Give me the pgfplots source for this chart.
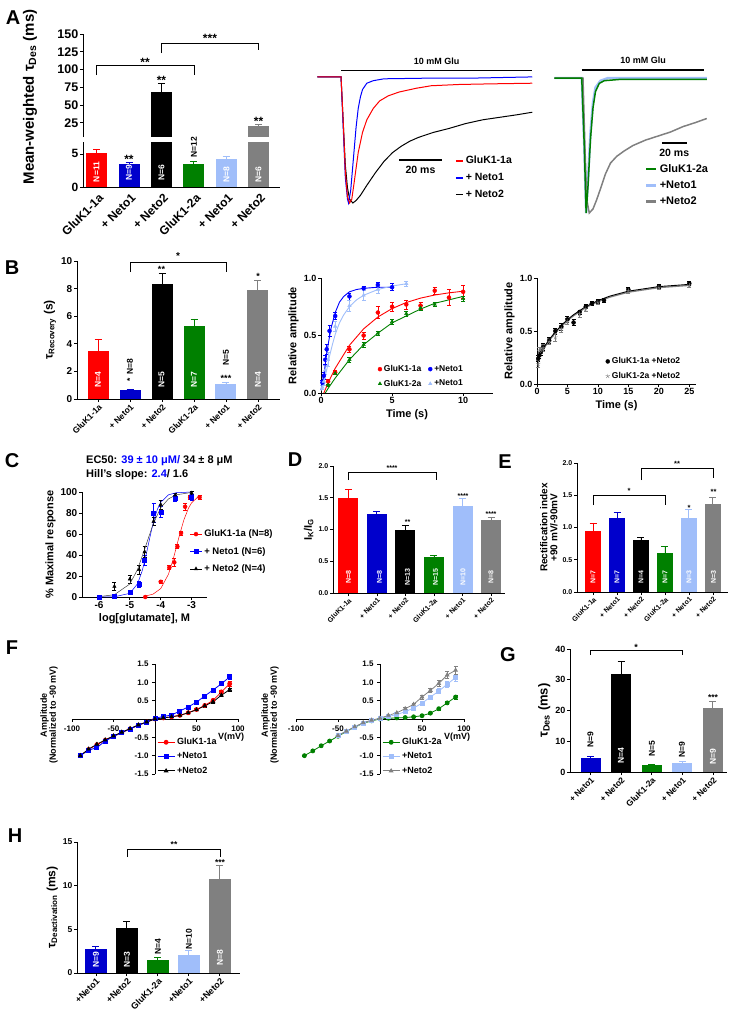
\documentclass[border=0pt]{standalone}
\usepackage{fontspec}
\setmainfont{Liberation Sans}
\usepackage{pgfplots}
\pgfplotsset{compat=1.18}

\definecolor{cred}{RGB}{255,0,0}
\definecolor{cblue}{RGB}{0,0,204}
\definecolor{tblue}{RGB}{0,0,255}
\definecolor{cgreen}{RGB}{0,128,0}
\definecolor{clb}{RGB}{160,190,250}
\definecolor{cgray}{RGB}{128,128,128}

\newcommand{\fs}[1]{\fontsize{#1}{#1}\selectfont\bfseries}

\pgfplotsset{
  base/.style={scale only axis, anchor=south west,
    axis lines=left, axis line style={-, line width=0.9pt},
    tick style={black, line width=0.8pt}, tick align=outside, major tick length=3pt,
    /pgf/number format/assume math mode=true,
    every tick label/.append style={inner sep=1.5pt}},
  dec1/.style={yticklabel style={/pgf/number format/.cd, fixed, fixed zerofill, precision=1}},
  bars/.style={base, xtick={0,...,5}, x tick label style={rotate=45, anchor=north east, inner sep=1pt}},
  hbar/.style={ybar, bar shift=0pt, fill=#1, draw=none,
    error bars/y dir=plus, error bars/y explicit,
    error bars/error bar style={#1, line width=0.9pt},
    error bars/error mark options={#1, line width=0.9pt, mark size=3.5pt, rotate=90}},
  pts/.style={only marks, color=#1, mark size=2pt,
    error bars/y dir=both, error bars/y explicit,
    error bars/error bar style={#1, line width=0.6pt},
    error bars/error mark options={#1, line width=0.6pt, mark size=2pt, rotate=90}},
  trleg/.style={legend cell align=left,
    legend image code/.code={\draw[##1] (0pt,0pt) -- (7pt,0pt);}},
}

\begin{document}
\begin{tikzpicture}
\path[use as bounding box] (0,0) rectangle (735pt,-1012pt);

% ---------------- A: bar chart with broken axis
\begin{axis}[bars, at={(83pt,-187pt)}, width=197pt, height=45pt,
  xmin=-0.42, xmax=5.66, ymin=0, ymax=6.8, ytick={0,5}, bar width=21pt, clip=true,
  xticklabels={GluK1-1a,+ Neto1,+ Neto2,GluK1-2a,+ Neto1,+ Neto2},
  x tick style={draw=none}, x tick label style={yshift=-2pt},
  tick label style={font=\fs{12}}]
\addplot[hbar=cred] coordinates {(0,5.2) +- (0,0.5)};
\addplot[hbar=cblue] coordinates {(1,3.5) +- (0,0.2)};
\addplot[hbar=black] coordinates {(2,69) +- (0,11)};
\addplot[hbar=cgreen] coordinates {(3,3.5) +- (0,0.3)};
\addplot[hbar=clb] coordinates {(4,4.2) +- (0,0.4)};
\addplot[hbar=cgray] coordinates {(5,20.8) +- (0,2.4)};
\end{axis}
\begin{axis}[base, axis x line=none, at={(83pt,-137pt)}, width=197pt, height=103pt,
  xmin=-0.42, xmax=5.66, ymin=5, ymax=150, ytick={25,50,...,150}, bar width=21pt, clip=true,
  tick label style={font=\fs{12.5}}]
\addplot[hbar=black] coordinates {(2,69) +- (0,11)};
\addplot[hbar=cgray] coordinates {(5,20.8) +- (0,2.4)};
\end{axis}

% ---------------- A: traces GluK1-1a
\begin{axis}[hide axis, scale only axis, anchor=south west, at={(317.4pt,-209.3pt)},
  width=217pt, height=145pt, xmin=-11, xmax=90, ymin=-1.05, ymax=0.1, clip=false,
  trleg, legend style={at={(0.634,0.381)}, anchor=north west, draw=none, fill=none,
    font=\fs{10.5}, row sep=4pt, inner sep=0pt}]
\addlegendimage{cred, line width=1.6pt}\addlegendentry{GluK1-1a}
\addlegendimage{tblue, line width=1.6pt}\addlegendentry{+ Neto1}
\addlegendimage{black, line width=1.6pt}\addlegendentry{+ Neto2}
\addplot[black, line width=1pt, forget plot] coordinates {(-11,0) (0,0) (1,-0.35) (2,-0.7) (3,-0.88) (4,-0.97) (5.5,-1.0) (7,-0.98) (9,-0.94) (12,-0.86) (16,-0.76) (20,-0.67) (24,-0.6) (28,-0.55) (32,-0.51) (36,-0.48) (43,-0.44) (50,-0.41) (58,-0.37) (66,-0.34) (74,-0.32) (82,-0.3) (89,-0.28)};
\addplot[tblue, line width=1pt, forget plot] coordinates {(-11,0) (0,0) (1,-0.4) (2,-0.8) (3,-0.97) (3.5,-1.0) (4.5,-0.9) (5.5,-0.7) (7,-0.4) (8,-0.25) (9,-0.16) (10,-0.1) (12,-0.05) (15,-0.03) (20,-0.015) (40,-0.01) (60,-0.01) (89,0)};
\addplot[cred, line width=1pt, forget plot] coordinates {(-11,0) (0,0) (1,-0.35) (2,-0.75) (3,-0.95) (4,-1.0) (5,-0.97) (6,-0.85) (8,-0.6) (10,-0.44) (12,-0.34) (15,-0.25) (18,-0.19) (22,-0.15) (27,-0.12) (35,-0.09) (42,-0.07) (55,-0.06) (70,-0.055) (89,-0.05)};
\draw[line width=1.5pt] (axis cs:0,0.05) -- (axis cs:89,0.05) node[midway, above=2pt, font=\fs{9}] {10 mM Glu};
\draw[line width=1.5pt] (axis cs:27,-0.66) -- (axis cs:47,-0.66) node[midway, below=2pt, font=\fs{10.5}] {20 ms};
\end{axis}

% ---------------- A: traces GluK1-2a
\begin{axis}[hide axis, scale only axis, anchor=south west, at={(554.25pt,-219.75pt)},
  width=153.75pt, height=155.25pt, xmin=-23, xmax=100, ymin=-1.05, ymax=0.1, clip=false,
  legend cell align=left,
  legend image code/.code={\draw[#1] (0pt,0pt) -- (10pt,0pt);},
  legend style={at={(0.59,0.372)}, anchor=north west, draw=none, fill=none,
    font=\fs{11}, row sep=3pt, inner sep=0pt}]
\addlegendimage{cgreen, line width=2.6pt}\addlegendentry{GluK1-2a}
\addlegendimage{clb, line width=2.6pt}\addlegendentry{+Neto1}
\addlegendimage{cgray, line width=2.6pt}\addlegendentry{+Neto2}
\addplot[clb, line width=2.4pt, forget plot] coordinates {(-23,0) (-1,0) (1,-0.5) (2.5,-1.0) (4,-0.75) (6,-0.4) (8,-0.18) (10,-0.07) (14,-0.02) (20,0) (99,0)};
\addplot[cgray, line width=1.5pt, forget plot] coordinates {(-23,0) (0,0) (1.5,-0.5) (3,-0.9) (5,-1.0) (8,-0.97) (11,-0.9) (14,-0.82) (18,-0.71) (22,-0.63) (27,-0.58) (33,-0.54) (40,-0.5) (50,-0.46) (60,-0.43) (70,-0.4) (80,-0.36) (90,-0.33) (99,-0.3)};
\addplot[cgreen, line width=1.5pt, forget plot] coordinates {(-23,0) (-1,0) (1,-0.5) (2.5,-1.0) (4,-0.8) (6,-0.45) (8,-0.22) (10,-0.1) (13,-0.04) (17,-0.02) (30,-0.01) (99,-0.01)};
\draw[line width=1.5pt] (axis cs:-1,0.06) -- (axis cs:97,0.06) node[midway, above=2pt, font=\fs{9}] {10 mM Glu};
\draw[line width=1.5pt] (axis cs:63,-0.48) -- (axis cs:83,-0.48) node[midway, below=2pt, font=\fs{10.5}] {20 ms};
\end{axis}

% ---------------- B: tau recovery bars
\begin{axis}[bars, at={(77pt,-399pt)}, width=203pt, height=138pt,
  xmin=-0.66, xmax=5.69, ymin=0, ymax=10, ytick={0,2,...,10}, bar width=21pt,
  xticklabels={GluK1-1a,+ Neto1,+ Neto2,GluK1-2a,+ Neto1,+ Neto2},
  y tick label style={font=\fs{10}}, x tick label style={font=\fs{8.5}},
  ylabel={τ\textsubscript{Recovery} (s)}, ylabel style={font=\fs{12}}]
\addplot[hbar=cred] coordinates {(0,3.5) +- (0,0.85)};
\addplot[hbar=cblue] coordinates {(1,0.65) +- (0,0.07)};
\addplot[hbar=black] coordinates {(2,8.3) +- (0,0.8)};
\addplot[hbar=cgreen] coordinates {(3,5.3) +- (0,0.5)};
\addplot[hbar=clb] coordinates {(4,1.1) +- (0,0.1)};
\addplot[hbar=cgray] coordinates {(5,7.9) +- (0,0.7)};
\end{axis}

% ---------------- B: recovery curves (Neto1)
\begin{axis}[base, dec1, at={(321pt,-393pt)}, width=172pt, height=115pt,
  xmin=0, xmax=12.1, ymin=0, ymax=1, xtick={0,5,10}, ytick={0,0.5,1},
  tick label style={font=\fs{9}}, label style={font=\fs{11}},
  xlabel={Time (s)}, ylabel={Relative amplitude}, clip=false,
  legend columns=2, legend cell align=left,
  legend style={at={(0.33,0.26)}, anchor=north west, draw=none, fill=none,
    font=\fs{8.5}, inner sep=0pt, row sep=3pt,
    /tikz/every even column/.append style={column sep=5pt}}]
\addplot[pts=cred, mark=*] coordinates {(0.5,0.1) +- (0,0.02) (1,0.18) +- (0,0.02) (2,0.38) +- (0,0.03) (3,0.5) +- (0,0.03) (4,0.7) +- (0,0.05) (5,0.75) +- (0,0.04) (6,0.77) +- (0,0.04) (7,0.76) +- (0,0.03) (8,0.89) +- (0,0.03) (9,0.83) +- (0,0.07) (10,0.88) +- (0,0.06)};
\addlegendentry{GluK1-1a}
\addplot[pts=tblue, mark=*] coordinates {(0.1,0.09) +- (0,0.02) (0.2,0.15) +- (0,0.03) (0.3,0.29) +- (0,0.04) (0.4,0.38) +- (0,0.04) (0.6,0.54) +- (0,0.05) (1,0.67) +- (0,0.03) (2,0.84) +- (0,0.03) (3,0.91) +- (0,0.02) (4,0.94) +- (0,0.02) (5,0.92) +- (0,0.03)};
\addlegendentry{+Neto1}
\addplot[pts=cgreen, mark=triangle*] coordinates {(0.5,0.07) +- (0,0.01) (1,0.17) +- (0,0.01) (2,0.29) +- (0,0.02) (3,0.42) +- (0,0.02) (4,0.52) +- (0,0.02) (5,0.62) +- (0,0.02) (6,0.69) +- (0,0.02) (7,0.74) +- (0,0.02) (8,0.77) +- (0,0.02) (10,0.82) +- (0,0.02)};
\addlegendentry{GluK1-2a}
\addplot[pts=clb, mark=triangle*] coordinates {(0.1,0.05) +- (0,0.02) (0.2,0.1) +- (0,0.03) (0.3,0.2) +- (0,0.04) (0.5,0.29) +- (0,0.06) (1,0.58) +- (0,0.04) (2,0.76) +- (0,0.05) (3,0.85) +- (0,0.04) (4,0.9) +- (0,0.03) (6,0.95) +- (0,0.02)};
\addlegendentry{+Neto1}
\addplot[cred, line width=0.9pt, forget plot] coordinates {(0.2,0) (0.5,0.088) (1,0.215) (2,0.415) (3,0.558) (4,0.661) (5,0.734) (6,0.787) (7,0.825) (8,0.852) (9,0.871) (10,0.885)};
\addplot[cgreen, line width=0.9pt, forget plot] coordinates {(0.3,0) (0.5,0.04) (1,0.13) (2,0.29) (3,0.42) (4,0.52) (5,0.61) (6,0.67) (7,0.73) (8,0.78) (9,0.81) (10,0.84)};
\addplot[tblue, line width=0.9pt, forget plot] coordinates {(0,0.03) (0.1,0.08) (0.2,0.16) (0.3,0.25) (0.4,0.34) (0.5,0.42) (0.7,0.56) (1,0.7) (1.3,0.79) (1.6,0.84) (2,0.88) (2.5,0.9) (3,0.91) (4,0.92) (5,0.92)};
\addplot[clb, line width=0.9pt, forget plot] coordinates {(0,0.02) (0.2,0.1) (0.4,0.2) (0.6,0.32) (0.8,0.42) (1,0.51) (1.3,0.61) (1.6,0.68) (2,0.75) (2.5,0.81) (3,0.85) (4,0.9) (5,0.93) (6,0.95)};
\end{axis}

% ---------------- B: recovery curves (Neto2)
\begin{axis}[base, dec1, at={(537pt,-384pt)}, width=159pt, height=106pt,
  xmin=0, xmax=26.1, ymin=0, ymax=1, xtick={0,5,...,25}, ytick={0,0.5,1},
  tick label style={font=\fs{9}}, label style={font=\fs{11}},
  xlabel={Time (s)}, ylabel={Relative amplitude}, clip=false,
  legend cell align=left,
  legend style={at={(0.43,0.27)}, anchor=north west, draw=none, fill=none,
    font=\fs{8.5}, inner sep=0pt, row sep=3pt}]
\addplot[pts=black, mark=*] coordinates {(0.2,0.24) +- (0,0.03) (0.4,0.27) +- (0,0.03) (0.6,0.3) +- (0,0.03) (1,0.35) +- (0,0.03) (2,0.41) +- (0,0.03) (3,0.5) +- (0,0.03) (4,0.54) +- (0,0.03) (5,0.61) +- (0,0.03) (6,0.58) +- (0,0.03) (7,0.68) +- (0,0.02) (8,0.73) +- (0,0.02) (9,0.76) +- (0,0.02) (10,0.78) +- (0,0.02) (11,0.79) +- (0,0.02) (15,0.89) +- (0,0.02) (20,0.92) +- (0,0.02) (25,0.95) +- (0,0.02)};
\addlegendentry{GluK1-1a +Neto2}
\addplot[pts=cgray, mark=star, mark size=2.3pt] coordinates {(0.2,0.19) +- (0,0.03) (0.4,0.31) +- (0,0.04) (0.6,0.32) +- (0,0.03) (1,0.34) +- (0,0.03) (2,0.4) +- (0,0.03) (3,0.44) +- (0,0.04) (4,0.52) +- (0,0.03) (5,0.59) +- (0,0.03) (7,0.66) +- (0,0.03) (8,0.71) +- (0,0.02) (10,0.77) +- (0,0.02) (15,0.88) +- (0,0.02) (20,0.91) +- (0,0.02) (25,0.93) +- (0,0.02)};
\addlegendentry{GluK1-2a +Neto2}
\addplot[cgray, line width=1.2pt, forget plot] coordinates {(0,0.23) (1,0.326) (2,0.409) (3,0.481) (4,0.543) (5,0.598) (6,0.644) (8,0.72) (10,0.777) (12,0.82) (15,0.866) (20,0.909) (25,0.93)};
\addplot[black, line width=0.9pt, forget plot] coordinates {(0,0.24) (1,0.336) (2,0.419) (3,0.491) (4,0.553) (5,0.608) (6,0.654) (8,0.73) (10,0.787) (12,0.83) (15,0.876) (20,0.919) (25,0.94)};
\end{axis}

% ---------------- C: dose response
\begin{axis}[base, at={(82pt,-597pt)}, width=125pt, height=105pt,
  xmin=-6.55, xmax=-2.5, ymin=0, ymax=100, xtick={-6,-5,-4,-3}, ytick={0,20,...,100},
  tick label style={font=\fs{10}}, label style={font=\fs{11}},
  xlabel={log[glutamate], M}, ylabel={\% Maximal response}, clip=false,
  legend cell align=left,
  legend image code/.code={\draw[#1, mark=none, line width=0.6pt] (0pt,0pt) -- (12pt,0pt); \draw[#1] plot coordinates {(6pt,0pt)};},
  legend style={at={(0.86,0.66)}, anchor=north west, draw=none, fill=none,
    font=\fs{9.5}, inner sep=0pt, row sep=5pt}]
\addplot[pts=cred, mark=*] coordinates {(-4.5,0) +- (0,0) (-4.0,14.5) +- (0,1) (-3.72,28) +- (0,2) (-3.56,33) +- (0,4) (-3.46,48) +- (0,2) (-3.34,61) +- (0,2) (-3.21,86) +- (0,3) (-3.05,95) +- (0,2) (-2.74,95) +- (0,2)};
\addlegendentry{GluK1-1a (N=8)}
\addplot[pts=tblue, mark=square*] coordinates {(-6,0) +- (0,0.5) (-5.5,1) +- (0,1) (-5,5) +- (0,1) (-4.7,12) +- (0,3) (-4.52,35) +- (0,5) (-4.23,80) +- (0,9) (-4.0,81) +- (0,5) (-3.53,94) +- (0,3) (-3.0,95) +- (0,3)};
\addlegendentry{+ Neto1 (N=6)}
\addplot[pts=black, mark=triangle*] coordinates {(-5.5,10) +- (0,4) (-5.0,17) +- (0,4) (-4.7,26) +- (0,4) (-4.52,43) +- (0,5) (-4.23,72) +- (0,4) (-4.0,88) +- (0,4) (-3.53,97) +- (0,2) (-3.0,99) +- (0,2)};
\addlegendentry{+ Neto2 (N=4)}
\addplot[cred, line width=0.5pt, forget plot] coordinates {(-4.5,0.9) (-4.25,2.7) (-4,8) (-3.75,21.6) (-3.6,35.5) (-3.5,46.6) (-3.4,58) (-3.25,73.4) (-3.1,84.6) (-3,89.7) (-2.75,96.5)};
\addplot[tblue, line width=0.5pt, forget plot] coordinates {(-6,0.01) (-5.5,0.23) (-5,3.5) (-4.75,12.6) (-4.6,24.9) (-4.5,36.5) (-4.4,50) (-4.3,63.5) (-4.2,75.1) (-4.1,84) (-4,90.1) (-3.75,97.3) (-3.5,99.3) (-3,100)};
\addplot[black!75, line width=0.5pt, forget plot] coordinates {(-6,0.36) (-5.5,2.2) (-5,12.4) (-4.75,26.3) (-4.5,47.2) (-4.25,69.2) (-4,85) (-3.75,93.4) (-3.5,97.3) (-3,99.6)};
\end{axis}

% ---------------- D: IK/IG
\begin{axis}[bars, dec1, at={(333pt,-593pt)}, width=172pt, height=127pt,
  xmin=-0.54, xmax=5.49, ymin=0, ymax=2, ytick={0,0.5,...,2}, bar width=20pt,
  xticklabels={GluK1-1a,+ Neto1,+ Neto2,GluK1-2a,+ Neto1,+ Neto2},
  tick label style={font=\fs{7}},
  ylabel={I\textsubscript{K}/I\textsubscript{G}}, ylabel style={font=\fs{11}}]
\addplot[hbar=cred] coordinates {(0,1.5) +- (0,0.13)};
\addplot[hbar=cblue] coordinates {(1,1.25) +- (0,0.03)};
\addplot[hbar=black] coordinates {(2,1.0) +- (0,0.06)};
\addplot[hbar=cgreen] coordinates {(3,0.56) +- (0,0.03)};
\addplot[hbar=clb] coordinates {(4,1.37) +- (0,0.12)};
\addplot[hbar=cgray] coordinates {(5,1.15) +- (0,0.04)};
\end{axis}

% ---------------- E: rectification index
\begin{axis}[bars, dec1, at={(577pt,-592pt)}, width=151pt, height=129pt,
  xmin=-0.67, xmax=5.63, ymin=0, ymax=2, ytick={0,0.5,...,2}, bar width=16pt,
  xticklabels={GluK1-1a,+ Neto1,+ Neto2,GluK1-2a,+ Neto1,+ Neto2},
  tick label style={font=\fs{7}},
  ylabel={Rectification index\\+90 mV/-90mV}, ylabel style={font=\fs{10}, align=center}]
\addplot[hbar=cred] coordinates {(0,0.95) +- (0,0.12)};
\addplot[hbar=cblue] coordinates {(1,1.15) +- (0,0.09)};
\addplot[hbar=black] coordinates {(2,0.8) +- (0,0.05)};
\addplot[hbar=cgreen] coordinates {(3,0.6) +- (0,0.1)};
\addplot[hbar=clb] coordinates {(4,1.14) +- (0,0.14)};
\addplot[hbar=cgray] coordinates {(5,1.37) +- (0,0.1)};
\end{axis}

% ---------------- F: I-V GluK1-1a
\begin{axis}[scale only axis, anchor=south west, at={(72pt,-774pt)}, width=166pt, height=110pt,
  axis lines=middle, axis line style={-, line width=0.9pt},
  tick style={black, line width=0.8pt}, tick align=outside, major tick length=3pt,
  /pgf/number format/assume math mode=true, dec1,
  xmin=-100, xmax=100, ymin=-1.5, ymax=1.5,
  xtick={-100,-50,50,100}, ytick={-1.5,-1,-0.5,0.5,1,1.5},
  tick label style={font=\fs{8}}, clip=false,
  legend cell align=left,
  legend style={at={(0.512,0.345)}, anchor=north west, draw=none, fill=none,
    font=\fs{9}, inner sep=0pt, row sep=2.5pt}]
\addplot[pts=cred, mark=*, sharp plot, line width=0.8pt] coordinates {(-90,-1) +- (0,0.01) (-80,-0.83) +- (0,0.02) (-70,-0.7) +- (0,0.02) (-60,-0.58) +- (0,0.02) (-50,-0.47) +- (0,0.02) (-40,-0.37) +- (0,0.02) (-30,-0.27) +- (0,0.02) (-20,-0.17) +- (0,0.01) (-10,-0.08) +- (0,0.01) (0,0) +- (0,0) (10,0.03) +- (0,0.01) (20,0.06) +- (0,0.01) (30,0.1) +- (0,0.01) (40,0.17) +- (0,0.02) (50,0.26) +- (0,0.02) (60,0.37) +- (0,0.03) (70,0.51) +- (0,0.04) (80,0.74) +- (0,0.05) (90,0.96) +- (0,0.06)};
\addlegendentry{GluK1-1a}
\addplot[pts=tblue, mark=square*, sharp plot, line width=0.8pt] coordinates {(-90,-1) +- (0,0.01) (-80,-0.85) +- (0,0.02) (-70,-0.78) +- (0,0.02) (-60,-0.6) +- (0,0.02) (-50,-0.48) +- (0,0.02) (-40,-0.37) +- (0,0.02) (-30,-0.27) +- (0,0.02) (-20,-0.17) +- (0,0.01) (-10,-0.09) +- (0,0.01) (0,0.02) +- (0,0) (10,0.07) +- (0,0.01) (20,0.11) +- (0,0.01) (30,0.22) +- (0,0.01) (40,0.33) +- (0,0.02) (50,0.46) +- (0,0.02) (60,0.63) +- (0,0.02) (70,0.79) +- (0,0.03) (80,0.96) +- (0,0.04) (90,1.15) +- (0,0.06)};
\addlegendentry{+Neto1}
\addplot[pts=black, mark=triangle*, sharp plot, line width=0.8pt] coordinates {(-90,-1) +- (0,0.01) (-80,-0.82) +- (0,0.02) (-70,-0.69) +- (0,0.02) (-60,-0.57) +- (0,0.02) (-50,-0.46) +- (0,0.02) (-40,-0.36) +- (0,0.02) (-30,-0.26) +- (0,0.02) (-20,-0.16) +- (0,0.01) (-10,-0.08) +- (0,0.01) (0,0) +- (0,0) (10,0.03) +- (0,0.01) (20,0.06) +- (0,0.01) (30,0.1) +- (0,0.01) (40,0.17) +- (0,0.02) (50,0.25) +- (0,0.02) (60,0.36) +- (0,0.03) (70,0.47) +- (0,0.03) (80,0.65) +- (0,0.04) (90,0.8) +- (0,0.04)};
\addlegendentry{+Neto2}
\end{axis}

% ---------------- F: I-V GluK1-2a
\begin{axis}[scale only axis, anchor=south west, at={(296pt,-774pt)}, width=168pt, height=110pt,
  axis lines=middle, axis line style={-, line width=0.9pt},
  tick style={black, line width=0.8pt}, tick align=outside, major tick length=3pt,
  /pgf/number format/assume math mode=true, dec1,
  xmin=-100, xmax=100, ymin=-1.5, ymax=1.5,
  xtick={-100,-50,50,100}, ytick={-1.5,-1,-0.5,0.5,1,1.5},
  tick label style={font=\fs{8}}, clip=false,
  legend cell align=left,
  legend style={at={(0.512,0.345)}, anchor=north west, draw=none, fill=none,
    font=\fs{9}, inner sep=0pt, row sep=2.5pt}]
\addplot[pts=cgreen, mark=*, sharp plot, line width=0.8pt] coordinates {(-90,-1) +- (0,0.01) (-80,-0.87) +- (0,0.01) (-70,-0.73) +- (0,0.01) (-60,-0.6) +- (0,0.01) (-50,-0.47) +- (0,0.01) (-40,-0.34) +- (0,0.01) (-30,-0.22) +- (0,0.01) (-20,-0.12) +- (0,0.01) (-10,-0.05) +- (0,0.01) (0,0) +- (0,0) (10,0.02) +- (0,0.01) (20,0.03) +- (0,0.01) (30,0.04) +- (0,0.01) (40,0.06) +- (0,0.01) (50,0.09) +- (0,0.01) (60,0.16) +- (0,0.02) (70,0.28) +- (0,0.03) (80,0.44) +- (0,0.05) (90,0.6) +- (0,0.06)};
\addlegendentry{GluK1-2a}
\addplot[pts=clb, mark=square*, sharp plot, line width=0.8pt] coordinates {(-50,-0.45) +- (0,0.01) (-40,-0.33) +- (0,0.01) (-30,-0.22) +- (0,0.01) (-20,-0.11) +- (0,0.01) (-10,-0.04) +- (0,0.01) (0,0.01) +- (0,0) (10,0.07) +- (0,0.01) (20,0.12) +- (0,0.02) (30,0.2) +- (0,0.02) (40,0.3) +- (0,0.03) (50,0.43) +- (0,0.04) (60,0.6) +- (0,0.05) (70,0.76) +- (0,0.07) (80,0.95) +- (0,0.09) (90,1.13) +- (0,0.1)};
\addlegendentry{+Neto1}
\addplot[pts=cgray, mark=triangle*, sharp plot, line width=0.8pt] coordinates {(-50,-0.45) +- (0,0.01) (-40,-0.33) +- (0,0.01) (-30,-0.21) +- (0,0.01) (-20,-0.1) +- (0,0.01) (-10,-0.03) +- (0,0.01) (0,0.02) +- (0,0) (10,0.1) +- (0,0.01) (20,0.17) +- (0,0.02) (30,0.28) +- (0,0.03) (40,0.4) +- (0,0.04) (50,0.6) +- (0,0.05) (60,0.78) +- (0,0.06) (70,0.97) +- (0,0.08) (80,1.2) +- (0,0.09) (90,1.33) +- (0,0.1)};
\addlegendentry{+Neto2}
\end{axis}

% ---------------- G: tau des
\begin{axis}[bars, at={(570pt,-772pt)}, width=157pt, height=123pt,
  xmin=-0.67, xmax=4.46, ymin=0, ymax=40, ytick={0,10,...,40}, bar width=20pt,
  xtick={0,...,4}, xticklabels={+ Neto1,+ Neto2,GluK1-2a,+ Neto1,+ Neto2},
  y tick label style={font=\fs{9}}, x tick label style={font=\fs{8.5}},
  ylabel={τ\textsubscript{Des} (ms)}, ylabel style={font=\fs{13}}]
\addplot[hbar=cblue] coordinates {(0,4.7) +- (0,0.5)};
\addplot[hbar=black] coordinates {(1,31.8) +- (0,4.2)};
\addplot[hbar=cgreen] coordinates {(2,2.3) +- (0,0.3)};
\addplot[hbar=clb] coordinates {(3,2.8) +- (0,0.7)};
\addplot[hbar=cgray] coordinates {(4,20.8) +- (0,2.2)};
\end{axis}

% ---------------- H: tau deactivation
\begin{axis}[bars, at={(77pt,-973pt)}, width=163pt, height=131pt,
  xmin=-0.61, xmax=4.65, ymin=0, ymax=15, ytick={0,5,10,15}, bar width=22pt,
  xtick={0,...,4}, xticklabels={+Neto1,+Neto2,GluK1-2a,+Neto1,+Neto2},
  y tick label style={font=\fs{8.5}}, x tick label style={font=\fs{9}},
  ylabel={τ\textsubscript{Deactivation} (ms)}, ylabel style={font=\fs{12}}]
\addplot[hbar=cblue] coordinates {(0,2.8) +- (0,0.2)};
\addplot[hbar=black] coordinates {(1,5.2) +- (0,0.7)};
\addplot[hbar=cgreen] coordinates {(2,1.5) +- (0,0.3)};
\addplot[hbar=clb] coordinates {(3,2.1) +- (0,0.5)};
\addplot[hbar=cgray] coordinates {(4,10.8) +- (0,1.5)};
\end{axis}

% ---------------- annotations
\begin{scope}[x=1pt, y=-1pt, every node/.style={inner sep=0pt}]
\tikzset{br/.style={line width=0.9pt}}
% panel letters
\foreach \l/\px/\py in {A/13/18, B/12/268, C/12/461, D/295/460, E/505/462, F/12/648, G/508/655, H/15/836}
  \node[font=\fs{20}] at (\px,\py) {\l};
% A
\node[rotate=90, font=\fs{15}] at (30,97) {Mean-weighted τ\textsubscript{Des} (ms)};
\node[rotate=90, white, font=\fs{8.5}] at (96.5,172) {N=11};
\node[rotate=90, white, font=\fs{8.5}] at (129,173) {N=9};
\node[rotate=90, white, font=\fs{8.5}] at (161.5,173) {N=6};
\node[rotate=90, font=\fs{8.5}] at (194,147) {N=12};
\node[rotate=90, white, font=\fs{8.5}] at (226.5,175) {N=8};
\node[rotate=90, white, font=\fs{8.5}] at (258.5,175) {N=6};
\node[font=\fs{12}] at (129,159) {**};
\node[font=\fs{12}] at (161.5,80) {**};
\node[font=\fs{12}] at (258.5,121) {**};
\draw[br] (96.5,75) -- (96.5,65) -- (194,65) -- (194,75);
\node[font=\fs{12}] at (145,62) {**};
\draw[br] (161.5,53) -- (161.5,43) -- (258.5,43) -- (258.5,50);
\node[font=\fs{12}] at (210,38) {***};
% B bars
\node[rotate=90, white, font=\fs{8.5}] at (98,380) {N=4};
\node[rotate=90, font=\fs{8.5}] at (130,370) {*\, N=8};
\node[rotate=90, white, font=\fs{8.5}] at (161.5,380) {N=5};
\node[rotate=90, white, font=\fs{8.5}] at (194,380) {N=7};
\node[rotate=90, font=\fs{8.5}] at (226,358) {N=5};
\node[font=\fs{9}] at (226,378) {***};
\node[rotate=90, white, font=\fs{8.5}] at (258,380) {N=4};
\node[font=\fs{9}] at (161.5,269) {**};
\node[font=\fs{9}] at (258,276) {*};
\draw[br] (130,272) -- (130,262) -- (226,262) -- (226,272);
\node[font=\fs{10}] at (178,256) {*};
% C title
\node[anchor=west, font=\fs{11}] at (86,461) {EC50: \textcolor{tblue}{39 ± 10 μM/} 34 ± 8 μM};
\node[anchor=west, font=\fs{11}] at (86,475) {Hill’s slope: \textcolor{tblue}{2.4}/ 1.6};
% D
\foreach \px/\t in {348.5/N=8, 379.5/N=8, 407.5/N=13, 435.5/N=15, 463/N=10, 491/N=8}
  \node[rotate=90, white, font=\fs{7}] at (\px,577) {\t};
\node[font=\fs{7}] at (407.5,522) {**};
\node[font=\fs{7}] at (463,496) {****};
\node[font=\fs{7}] at (491,514) {****};
\draw[br] (348.5,480) -- (348.5,472) -- (436,472) -- (436,480);
\node[font=\fs{7}] at (392,468) {****};
% E
\foreach \px/\t in {593/N=7, 617/N=7, 641/N=4, 665/N=7, 689/N=3, 713.5/N=3}
  \node[rotate=90, white, font=\fs{7}] at (\px,577) {\t};
\node[font=\fs{7.5}] at (689,508) {*};
\node[font=\fs{7.5}] at (713.5,492) {**};
\draw[br] (593,505) -- (593,495) -- (665,495) -- (665,505);
\node[font=\fs{7.5}] at (629,491) {*};
\draw[br] (641,480) -- (641,468) -- (713.5,468) -- (713.5,478);
\node[font=\fs{7.5}] at (677,464) {**};
% F
\node[rotate=90, font=\fs{9}, align=center] at (49,715) {Amplitude\\(Normalized to -90 mV)};
\node[rotate=90, font=\fs{9}, align=center] at (270,715) {Amplitude\\(Normalized to -90 mV)};
\node[font=\fs{9}] at (231,737) {V(mV)};
\node[font=\fs{9}] at (457,737) {V(mV)};
% G
\node[rotate=90, font=\fs{8.5}] at (590.5,740) {N=9};
\node[rotate=90, white, font=\fs{8.5}] at (621,756) {N=4};
\node[rotate=90, font=\fs{8.5}] at (652,749) {N=5};
\node[rotate=90, font=\fs{8.5}] at (682,750) {N=9};
\node[rotate=90, white, font=\fs{8.5}] at (713,757) {N=9};
\node[font=\fs{8.5}] at (713,698) {***};
\draw[br] (590.5,655) -- (590.5,650) -- (682,650) -- (682,655);
\node[font=\fs{9}] at (636,647) {*};
% H
\node[rotate=90, white, font=\fs{8.5}] at (96,960) {N=9};
\node[rotate=90, white, font=\fs{8.5}] at (127,960) {N=3};
\node[rotate=90, font=\fs{8.5}] at (158,947) {N=4};
\node[rotate=90, font=\fs{8.5}] at (189,939) {N=10};
\node[rotate=90, white, font=\fs{8.5}] at (220,958) {N=8};
\node[font=\fs{8.5}] at (220,863) {***};
\draw[br] (127,857) -- (127,849) -- (220,849) -- (220,857);
\node[font=\fs{8.5}] at (174,845) {**};
\end{scope}
\end{tikzpicture}
\end{document}
